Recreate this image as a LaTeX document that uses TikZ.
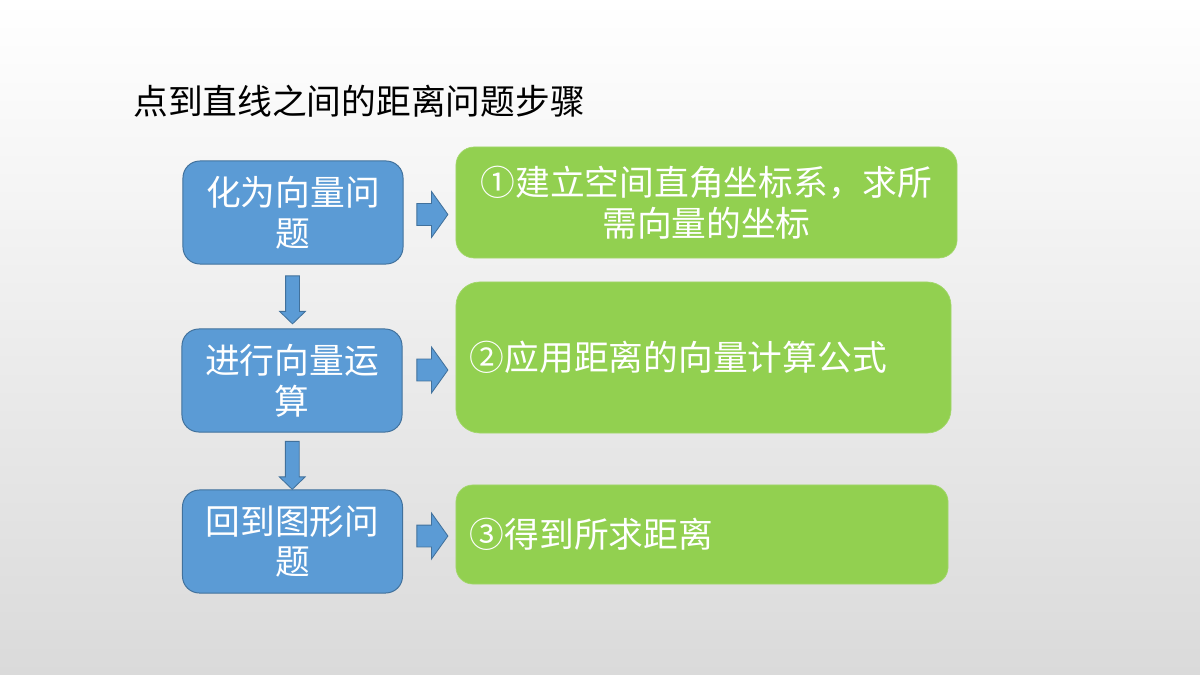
\documentclass[tikz,border=0pt]{standalone}
\usepackage{fontspec}
\newfontfamily\cjk{Noto Sans CJK SC}
\usepackage{xcolor}
\usetikzlibrary{shapes.arrows, positioning, calc}

\definecolor{boxblue}{HTML}{5B9BD5}
\definecolor{blueedge}{HTML}{41719C}
\definecolor{boxgreen}{HTML}{92D050}

\begin{document}
\begin{tikzpicture}[
        x=0.025cm, y=-0.025cm,
        txt/.style={font=\cjk\fontsize{24.7}{29}\selectfont},
        stepbox/.style={rectangle, draw=blueedge, line width=0.7pt, fill=boxblue, rounded corners=12pt, minimum width=5.5cm, minimum height=2.575cm, inner sep=0pt, align=center, text=white, txt},
        resbox/.style={rectangle, draw=boxgreen!85!white, line width=0.5pt, fill=boxgreen, rounded corners=13pt, inner xsep=0.35cm, inner ysep=0pt, text=white, txt},
        rarrow/.style={single arrow, draw=blueedge, line width=0.6pt, fill=boxblue, inner xsep=0pt, inner ysep=0.2625cm, single arrow head extend=0.3cm, single arrow tip angle=109, minimum height=0.775cm},
        darrow/.style={single arrow, rotate=-90, draw=blueedge, line width=0.6pt, fill=boxblue, inner xsep=0pt, inner ysep=0.1625cm, single arrow head extend=0.15cm, single arrow tip angle=92, minimum height=1.2cm}
        ]

        % background
        \shade[top color=white, middle color=black!4, bottom color=black!14.5] (0,0) rectangle (1200,675);
        \useasboundingbox (0,0) rectangle (1200,675);

        % title
        \node (title) [txt, anchor=west, inner sep=0pt] at (133,101) {点到直线之间的距离问题步骤};

        % left column
        \node (b1) [stepbox] at (293,212.5) {化为向量问\\题};
        \node (b2) [stepbox] at (292,380.5) {进行向量运\\算};
        \node (b3) [stepbox] at (292.5,541.5) {回到图形问\\题};

        % right column
        \node (g1) [resbox, minimum width=12.525cm, minimum height=2.775cm, align=center] at (706.5,202.5) {①建立空间直角坐标系，求所\\需向量的坐标};
        \node (g2) [resbox, rounded corners=17pt, text width=11.675cm, minimum height=3.775cm, align=left] at (703.5,357.5) {②应用距离的向量计算公式};
        \node (g3) [resbox, rounded corners=12pt, text width=11.6cm, minimum height=2.475cm, align=left] at (702,534.5) {③得到所求距离};

        % arrows
        \node (d1) [darrow] at ($(b1.south)!0.5!(b2.north)$) {};
        \node (d2) [darrow] at ($(b2.south)!0.5!(b3.north)+(0,1)$) {};

        \node (r1) [rarrow] at (428.5,214.5) {};
        \node (r2) [rarrow] at (428.5,370) {};
        \node (r3) [rarrow] at (428.5,536) {};

\end{tikzpicture}
\end{document}
